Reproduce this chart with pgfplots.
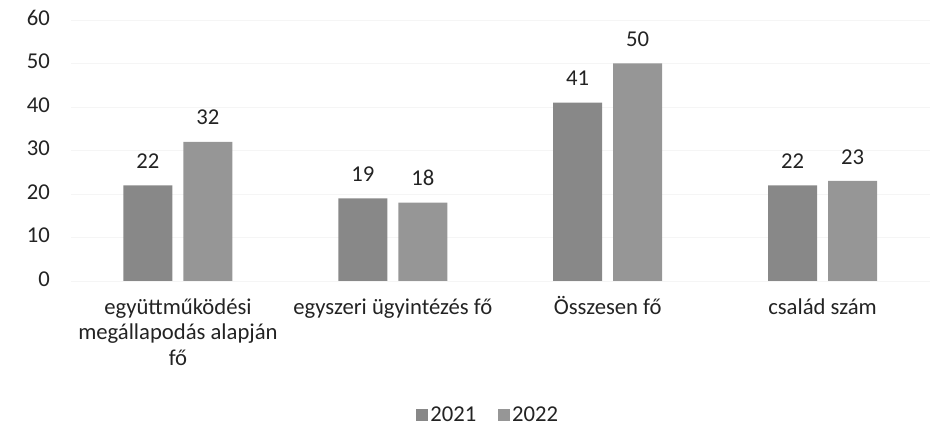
\documentclass[border=0pt]{standalone}
\usepackage{pgfplots}
\pgfplotsset{compat=1.18}
\usepackage{fontspec}
\setmainfont{Carlito}
\definecolor{barA}{RGB}{136,136,136}
\definecolor{barB}{RGB}{150,150,150}
\definecolor{txt}{RGB}{35,35,35}
\begin{document}
\begin{tikzpicture}
\useasboundingbox (-52.9pt,-125.25pt) rectangle (652.1pt,210.75pt);
\begin{axis}[
  at={(0,0)}, anchor=south west,
  scale only axis,
  width=644.6pt, height=195.75pt,
  xmin=-0.5, xmax=3.5, ymin=0, ymax=60,
  ytick={0,10,...,60},
  xtick={0,1,2,3},
  xticklabels={{\vphantom{Ö}együttműködési\\megállapodás alapján\\fő},{\vphantom{Ö}egyszeri ügyintézés fő},{\vphantom{Ö}Összesen fő},{\vphantom{Ö}család szám}},
  typeset ticklabels with strut,
  xticklabel style={align=center, font=\fontsize{17}{19}\selectfont, text=txt, yshift=-8pt},
  yticklabel style={font=\fontsize{17}{19}\selectfont, text=txt, xshift=-12pt},
  /pgf/number format/assume math mode=true,
  axis line style={draw=none},
  major tick length=0pt,
  ymajorgrids, grid style={black!4, line width=0.6pt},
  ybar, bar width=36.75pt,
  nodes near coords,
  every node near coord/.append style={font=\fontsize{17}{19}\selectfont, text=txt, yshift=9pt},
  legend style={at={(rel axis cs:0.486,-0.513)}, anchor=center, draw=none, legend columns=2,
    font=\fontsize{17}{19}\selectfont, text=txt,
    /tikz/every even column/.append style={column sep=14pt}},
  legend image code/.code={\fill[#1] (0pt,-4.5pt) rectangle (9pt,4.5pt);},
]
\addplot[fill=barA, draw=none, bar shift=-22.5pt] coordinates {(0,22) (1,19) (2,41) (3,22)};
\addplot[fill=barB, draw=none, bar shift=22.5pt] coordinates {(0,32) (1,18) (2,50) (3,23)};
\legend{2021,2022}
\end{axis}
\end{tikzpicture}
\end{document}
